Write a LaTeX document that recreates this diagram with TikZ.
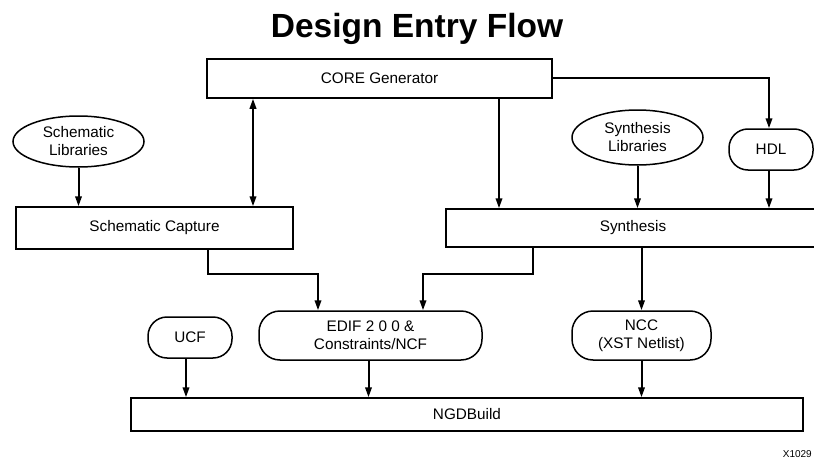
\documentclass[tikz,border=0pt]{standalone}
\usepackage{fontspec}
\setmainfont{Liberation Sans}
\usetikzlibrary{arrows.meta,shapes.geometric,calc}
\begin{document}
\begin{tikzpicture}[x=1pt,y=-1pt,
  lbl/.style={font=\fontsize{15.3}{18}\selectfont, align=center, inner sep=0pt},
  boxn/.style={lbl, draw, line width=1.5pt, rectangle},
  ell/.style={lbl, draw, line width=1.5pt, ellipse},
  pill/.style={lbl, draw, line width=1.5pt, rectangle, rounded corners=19pt},
  conn/.style={line width=2pt, -{Triangle[length=10pt,width=6.5pt]}},
  dconn/.style={line width=2pt, {Triangle[length=10pt,width=6.5pt]}-{Triangle[length=10pt,width=6.5pt]}}]
\useasboundingbox (0,0) rectangle (814,460);
\clip (0,0) rectangle (814,460);
\node[font=\fontsize{33.5}{38}\selectfont\bfseries, inner sep=0pt] (title) at (417,29) {Design Entry Flow};

\node[boxn, minimum width=345pt, minimum height=39pt] (core) at (379.5,78.5) {CORE Generator};
\node[ell, minimum width=131pt, minimum height=51pt] (schlib) at (78.5,141.5) {Schematic\\Libraries};
\node[boxn, minimum width=277pt, minimum height=42pt] (schcap) at (154.5,228) {Schematic Capture};
\node[ell, minimum width=131pt, minimum height=55pt] (synlib) at (637.5,137.5) {Synthesis\\Libraries};
\node[pill, minimum width=84pt, minimum height=41pt] (hdl) at (771,149.5) {HDL};
\node[boxn, minimum width=374pt, minimum height=38pt] (syn) at (633,228) {Synthesis};
\node[pill, minimum width=223pt, minimum height=49pt, rounded corners=21pt] (edif) at (370.5,335.5) {EDIF 2 0 0 \&\\Constraints/NCF};
\node[pill, minimum width=84pt, minimum height=41pt] (ucf) at (190,337.5) {UCF};
\node[pill, minimum width=139pt, minimum height=49pt, rounded corners=21pt] (ncc) at (641.5,335.5) {NCC\\(XST Netlist)};
\node[boxn, minimum width=672pt, minimum height=33pt] (ngd) at (467,414.5) {NGDBuild};
\node[font=\fontsize{10}{11}\selectfont, anchor=east, inner sep=0pt] (xref) at (812,454) {X1029};

\draw[conn] (schlib.south) -- (schlib.south |- schcap.north);
\draw[dconn] ([xshift=-126.5pt]core.south) -- ([xshift=-126.5pt]core.south |- schcap.north);
\draw[conn] (core.east) -| ([xshift=-2pt]hdl.north);
\draw[conn] ([xshift=119.5pt]core.south) -- ([xshift=119.5pt]core.south |- syn.north);
\draw[conn] (synlib.south) -- (synlib.south |- syn.north);
\draw[conn] ([xshift=-2pt]hdl.south) -- ([xshift=-2pt]hdl.south |- syn.north);
\draw[conn] ([xshift=53.5pt]schcap.south) -- ++(0,24.5) -| ([xshift=-52.5pt]edif.north);
\draw[conn] ([xshift=-100pt]syn.south) -- ++(0,26) -| ([xshift=52.5pt]edif.north);
\draw[conn] (ncc.north |- syn.south) -- (ncc.north);
\draw[conn] ([xshift=-4pt]ucf.south) -- ([xshift=-4pt]ucf.south |- ngd.north);
\draw[conn] ([xshift=-2pt]edif.south) -- ([xshift=-2pt]edif.south |- ngd.north);
\draw[conn] (ncc.south) -- (ncc.south |- ngd.north);
\end{tikzpicture}
\end{document}
